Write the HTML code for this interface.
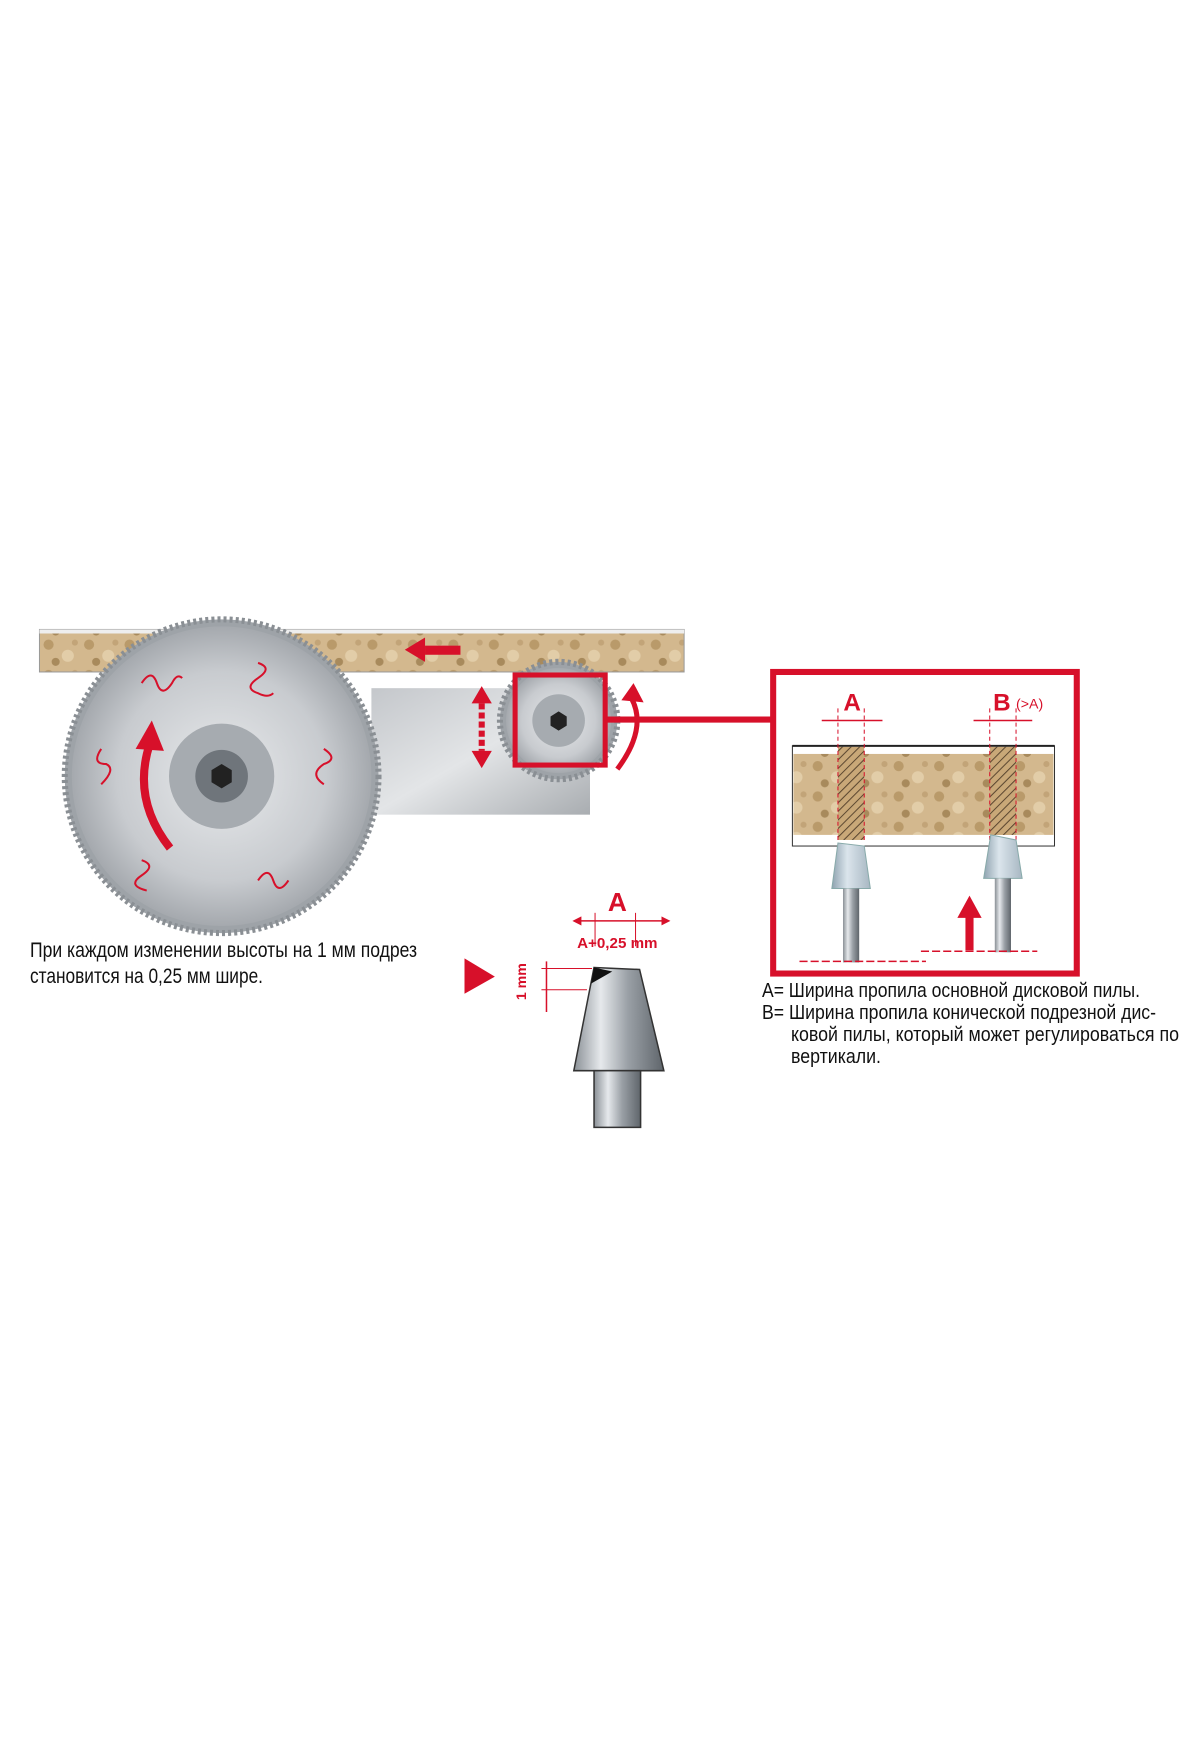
<!DOCTYPE html>
<html><head><meta charset="utf-8"><style>
html,body{margin:0;padding:0;background:#fff}
svg{display:block}
text{font-family:"Liberation Sans",sans-serif}
</style></head><body>
<svg width="1200" height="1760" viewBox="0 0 1200 1760" xmlns="http://www.w3.org/2000/svg">
<defs>
<radialGradient id="saw" cx="0.5" cy="0.5" r="0.5">
<stop offset="0" stop-color="#e8eaec"/><stop offset="0.7" stop-color="#c8cbcf"/><stop offset="1" stop-color="#a5a9ae"/></radialGradient>
<linearGradient id="metal" x1="0" y1="0" x2="1" y2="0">
<stop offset="0" stop-color="#8a9096"/><stop offset="0.3" stop-color="#e6e9ec"/><stop offset="0.6" stop-color="#9aa0a6"/><stop offset="1" stop-color="#5f656b"/></linearGradient>
<linearGradient id="brk" x1="0" y1="0" x2="1" y2="1">
<stop offset="0" stop-color="#c4c7cb"/><stop offset="0.5" stop-color="#e3e5e7"/><stop offset="1" stop-color="#a9adb1"/></linearGradient>
<linearGradient id="cone" x1="0" y1="0" x2="1" y2="0">
<stop offset="0" stop-color="#8fa3b0"/><stop offset="0.4" stop-color="#dbe5ec"/><stop offset="1" stop-color="#a7b7c2"/></linearGradient>
<pattern id="wood" width="40" height="30" patternUnits="userSpaceOnUse">
<rect width="40" height="30" fill="#d3b88e"/>
<circle cx="8" cy="7" r="5" fill="#b99a6a"/><circle cx="27" cy="18" r="6" fill="#e2cda8"/>
<circle cx="15" cy="24" r="4" fill="#a88a5c"/><circle cx="34" cy="5" r="3" fill="#c2a478"/></pattern>
<pattern id="hatch" width="6" height="6" patternUnits="userSpaceOnUse" patternTransform="rotate(45)">
<rect width="6" height="6" fill="#c9a878"/><line x1="0" y1="0" x2="0" y2="6" stroke="#5a4630" stroke-width="2"/></pattern>
<marker id="ah" viewBox="0 0 10 10" refX="5" refY="5" markerWidth="6" markerHeight="6" orient="auto-start-reverse"><path d="M0,0L10,5L0,10z" fill="#d7102a"/></marker>
</defs>
<g transform="scale(1.012)">
<rect x="39" y="622" width="637" height="42" fill="url(#wood)" stroke="#999" stroke-width="1"/>
<line x1="39" y1="624" x2="676" y2="624" stroke="#eee" stroke-width="4"/>
<rect x="367" y="680" width="216" height="125" fill="url(#brk)"/>
<circle cx="219" cy="767" r="155" fill="#9ea3a8" stroke="#8a8f94" stroke-width="6" stroke-dasharray="3 3"/>
<circle cx="219" cy="767" r="148" fill="url(#saw)"/>
<circle cx="219" cy="767" r="52" fill="#a6abb0"/>
<circle cx="219" cy="767" r="26" fill="#6f757b"/>
<polygon points="219,755 229,761 229,773 219,779 209,773 209,761" fill="#222"/>
<g fill="none" stroke="#d7102a" stroke-width="2">
<path d="M140,675 q10,-15 15,0 q5,15 15,0 q5,-10 10,-5"/><path d="M255,655 q15,5 0,15 q-15,10 0,15 q10,5 15,0"/>
<path d="M320,740 q15,10 0,15 q-15,10 0,20"/><path d="M100,740 q-10,15 5,15 q10,5 -5,20"/>
<path d="M140,850 q15,5 0,15 q-15,10 5,15"/><path d="M255,870 q10,-15 15,0 q5,15 15,0"/></g>
<path d="M168,838 Q130,790 148,735" fill="none" stroke="#d7102a" stroke-width="8"/>
<polygon points="134,740 150,712 162,742" fill="#d7102a"/>
<rect x="420" y="638" width="35" height="9" fill="#d7102a"/><polygon points="420,630 400,642 420,654" fill="#d7102a"/>
<circle cx="552" cy="712" r="58" fill="#9ea3a8" stroke="#8a8f94" stroke-width="6" stroke-dasharray="3 3"/>
<circle cx="552" cy="712" r="52" fill="url(#saw)"/>
<circle cx="552" cy="712" r="26" fill="#a6abb0"/>
<polygon points="552,703 560,708 560,717 552,722 544,717 544,708" fill="#222"/>
<rect x="509" y="667" width="89" height="89" fill="none" stroke="#d7102a" stroke-width="5"/>
<line x1="476" y1="695" x2="476" y2="742" stroke="#d7102a" stroke-width="6" stroke-dasharray="6 3"/>
<polygon points="466,695 476,678 486,695" fill="#d7102a"/><polygon points="466,742 476,759 486,742" fill="#d7102a"/>
<path d="M610,760 Q640,720 624,690" fill="none" stroke="#d7102a" stroke-width="5"/>
<polygon points="614,692 626,675 636,694" fill="#d7102a"/>
<line x1="598" y1="711" x2="764" y2="711" stroke="#d7102a" stroke-width="6"/>
<rect x="764" y="664" width="300" height="298" fill="#fff" stroke="#d7102a" stroke-width="6"/>
<rect x="783" y="737" width="259" height="99" fill="#fff" stroke="#333" stroke-width="1"/>
<line x1="783" y1="737" x2="1042" y2="737" stroke="#222" stroke-width="2"/>
<rect x="784" y="745" width="257" height="80" fill="url(#wood)"/>
<rect x="828" y="738" width="26" height="92" fill="url(#hatch)"/>
<rect x="978" y="738" width="26" height="87" fill="url(#hatch)"/>
<g stroke="#d7102a" stroke-width="1" stroke-dasharray="4 3">
<line x1="828" y1="700" x2="828" y2="830"/><line x1="854" y1="700" x2="854" y2="830"/>
<line x1="978" y1="700" x2="978" y2="830"/><line x1="1004" y1="700" x2="1004" y2="830"/></g>
<line x1="812" y1="712" x2="872" y2="712" stroke="#d7102a" stroke-width="1.5"/>
<line x1="962" y1="712" x2="1020" y2="712" stroke="#d7102a" stroke-width="1.5"/>
<text x="842" y="702" font-size="24" font-weight="bold" fill="#d7102a" text-anchor="middle">A</text>
<text x="990" y="702" font-size="24" font-weight="bold" fill="#d7102a" text-anchor="middle">B</text>
<text x="1004" y="700" font-size="14" fill="#d7102a">(&gt;A)</text>
<polygon points="828,833 854,836 860,878 822,878" fill="url(#cone)" stroke="#8aa" stroke-width="1"/>
<rect x="833" y="878" width="16" height="73" fill="url(#metal)"/>
<polygon points="979,825 1004,830 1010,868 972,868" fill="url(#cone)" stroke="#8aa" stroke-width="1"/>
<rect x="983" y="868" width="16" height="73" fill="url(#metal)"/>
<line x1="958" y1="939" x2="958" y2="905" stroke="#d7102a" stroke-width="8"/>
<polygon points="946,907 958,885 970,907" fill="#d7102a"/>
<line x1="790" y1="950" x2="915" y2="950" stroke="#d7102a" stroke-width="1.5" stroke-dasharray="8 3"/>
<line x1="910" y1="940" x2="1025" y2="940" stroke="#d7102a" stroke-width="1.5" stroke-dasharray="8 3"/>
<polygon points="459,947 489,965 459,982" fill="#d7102a"/>
<text x="610" y="900" font-size="26" font-weight="bold" fill="#d7102a" text-anchor="middle">A</text>
<line x1="570" y1="910" x2="658" y2="910" stroke="#d7102a" stroke-width="1.5" marker-start="url(#ah)" marker-end="url(#ah)"/>
<line x1="588" y1="902" x2="588" y2="935" stroke="#d7102a" stroke-width="1"/>
<line x1="628" y1="902" x2="628" y2="935" stroke="#d7102a" stroke-width="1"/>
<text x="610" y="937" font-size="15" font-weight="bold" fill="#d7102a" text-anchor="middle">A+0,25 mm</text>
<line x1="540" y1="950" x2="540" y2="1000" stroke="#d7102a" stroke-width="1.5"/>
<line x1="535" y1="957" x2="585" y2="957" stroke="#d7102a" stroke-width="1"/>
<line x1="535" y1="978" x2="580" y2="978" stroke="#d7102a" stroke-width="1"/>
<text transform="translate(520,970) rotate(-90)" font-size="14" font-weight="bold" fill="#d7102a" text-anchor="middle">1 mm</text>
<polygon points="587,956 632,958 656,1058 567,1058" fill="url(#metal)" stroke="#333" stroke-width="1.5"/>
<polygon points="587,956 605,960 584,972" fill="#111"/>
<rect x="587" y="1058" width="46" height="56" fill="url(#metal)" stroke="#333" stroke-width="1.5"/>
</g>
<g font-size="21" fill="#111">
<text x="30" y="957" textLength="387" lengthAdjust="spacingAndGlyphs">При каждом изменении высоты на 1 мм подрез</text>
<text x="30" y="983" textLength="233" lengthAdjust="spacingAndGlyphs">становится на 0,25 мм шире.</text>
</g>
<g font-size="20" fill="#111">
<text x="762" y="997" textLength="378" lengthAdjust="spacingAndGlyphs">A= Ширина пропила основной дисковой пилы.</text>
<text x="762" y="1019" textLength="394" lengthAdjust="spacingAndGlyphs">B= Ширина пропила конической подрезной дис-</text>
<text x="791" y="1041" textLength="388" lengthAdjust="spacingAndGlyphs">ковой пилы,  который может регулироваться по</text>
<text x="791" y="1063" textLength="90" lengthAdjust="spacingAndGlyphs">вертикали.</text>
</g>
</svg>
</body></html>
